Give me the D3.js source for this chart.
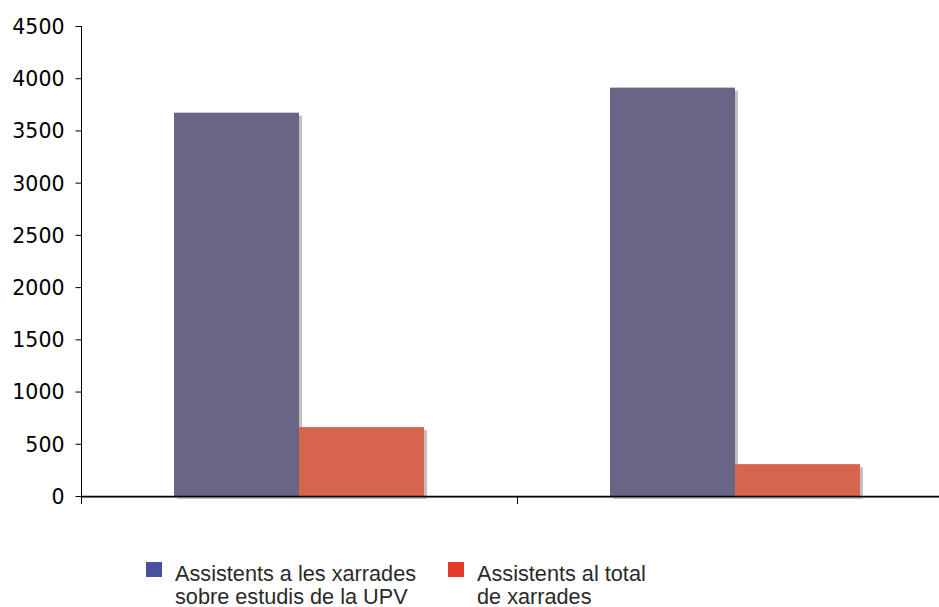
<!DOCTYPE html>
<html>
<head>
<meta charset="utf-8">
<script src="https://cdn.jsdelivr.net/npm/d3@7/dist/d3.min.js"></script>
<style>
  html, body { margin: 0; padding: 0; background: #fff; }
  svg { display: block; }
</style>
</head>
<body>
<svg id="chart" width="939" height="607"></svg>
<script>
// ---- data ----
const categories = ["Xarrades 1", "Xarrades 2"];
const seriesNames = ["Assistents a les xarrades sobre estudis de la UPV", "Assistents al total de xarrades"];
const seriesLegendLines = [["Assistents a les xarrades", "sobre estudis de la UPV"], ["Assistents al total", "de xarrades"]];
const upvValues = [3670, 3910];
const totalValues = [660, 305];
const yTicks = [0, 500, 1000, 1500, 2000, 2500, 3000, 3500, 4000, 4500];

const barColors = ["#686587", "#d6654c"];
const legendColors = ["#4a4fa0", "#e53a2a"];

const svg = d3.select("#chart");
const mLeft = 81, mRight = 953, mTop = 26, mBottom = 496;

const y = d3.scaleLinear().domain([0, 4500]).range([mBottom, mTop]);
const x0 = d3.scaleBand().domain(categories).range([mLeft, mRight]).paddingInner(0.4266).paddingOuter(0.2133);
const x1 = d3.scaleBand().domain(seriesNames).range([0, x0.bandwidth()]);

const rows = categories.map((c, i) => ({ cat: c, vals: [upvValues[i], totalValues[i]] }));

const groups = svg.append("g").selectAll("g").data(rows).join("g")
  .attr("transform", d => `translate(${x0(d.cat)},0)`);

// shadows
groups.selectAll("rect.shadow").data(d => d.vals.map((v, j) => ({ v, s: seriesNames[j], j })))
  .join("rect").attr("class", "shadow")
  .attr("x", d => x1(d.s) + 3)
  .attr("y", d => y(d.v) + 3)
  .attr("width", x1.bandwidth())
  .attr("height", d => mBottom - y(d.v))
  .attr("fill", "#c0c0c0");

// bars
groups.selectAll("rect.bar").data(d => d.vals.map((v, j) => ({ v, s: seriesNames[j], j })))
  .join("rect").attr("class", "bar")
  .attr("x", d => x1(d.s))
  .attr("y", d => y(d.v))
  .attr("width", x1.bandwidth())
  .attr("height", d => mBottom - y(d.v))
  .attr("fill", d => barColors[d.j]);

// gray line under x axis
svg.append("line").attr("x1", mLeft).attr("x2", 939).attr("y1", mBottom + 1.5).attr("y2", mBottom + 1.5)
  .attr("stroke", "#9a9a9a").attr("stroke-width", 1);

// y axis
const yAxis = d3.axisLeft(y).tickValues(yTicks).tickFormat(d3.format("d"))
  .tickSize(6).tickSizeOuter(0).tickPadding(11);
const gy = svg.append("g").attr("transform", `translate(${mLeft + 0.5},0)`).call(yAxis);
gy.select(".domain").attr("stroke", "#000").attr("d", `M0,${mTop}V${mBottom + 7}`);
gy.selectAll(".tick line").attr("stroke", "#000");
gy.selectAll(".tick text").attr("font-family", "DejaVu Sans, Verdana, sans-serif")
  .attr("font-size", "20.5px").attr("fill", "#000").attr("dy", "0.36em");

// x axis (ticks at category boundaries)
const gx = svg.append("g");
gx.append("line").attr("x1", mLeft).attr("x2", mRight).attr("y1", mBottom + 0.5).attr("y2", mBottom + 0.5)
  .attr("stroke", "#000").attr("stroke-width", 1.5);
const step = x0.step();
const boundaries = categories.map((c) => x0(c) - step * x0.paddingInner() / 2);
gx.selectAll("line.xt").data(boundaries).join("line").attr("class", "xt")
  .attr("x1", d => Math.round(d) + 0.5).attr("x2", d => Math.round(d) + 0.5)
  .attr("y1", mBottom).attr("y2", mBottom + 8).attr("stroke", "#000");

// legend
const legend = svg.append("g");
const legendX = [146, 448];
seriesNames.forEach((s, i) => {
  const g = legend.append("g").attr("transform", `translate(${legendX[i]},562)`);
  g.append("rect").attr("width", 16).attr("height", 15).attr("fill", legendColors[i]);
  const t = g.append("text").attr("x", 29).attr("y", 18.5)
    .attr("font-family", "Liberation Sans, Arial, sans-serif").attr("font-size", "21.7px").attr("fill", "#2a2a2a");
  seriesLegendLines[i].forEach((line, k) => {
    t.append("tspan").attr("x", 29).attr("dy", k === 0 ? 0 : 23).text(line);
  });
});
</script>
</body>
</html>
